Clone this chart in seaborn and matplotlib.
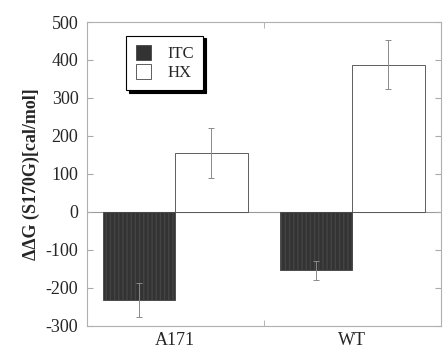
import numpy as np
import pandas as pd
import matplotlib
matplotlib.use("Agg")
import matplotlib.pyplot as plt
import seaborn as sns

# values
variants = ["A171", "WT"]
methods = ["ITC", "HX"]
itc_values = [-232, -155]
itc_errors = [45, 25]
hx_values = [155, 388]
hx_errors = [65, 65]

df = pd.DataFrame({
    "variant": variants * 2,
    "method": ["ITC"] * 2 + ["HX"] * 2,
    "ddg": itc_values + hx_values,
    "err": itc_errors + hx_errors,
})

sns.set_style("white")
plt.rcParams["font.family"] = ["Liberation Serif", "DejaVu Serif"]
plt.rcParams["axes.unicode_minus"] = False
plt.rcParams["hatch.color"] = "#4a4a4a"

fig, ax = plt.subplots(figsize=(4.45, 3.5), dpi=100)
fig.subplots_adjust(left=0.195, right=0.99, top=0.937, bottom=0.07)

sns.barplot(data=df, x="variant", y="ddg", hue="method", order=variants,
            hue_order=methods, palette=["#333333", "white"], errorbar=None,
            width=0.82, edgecolor="#444444", linewidth=0.6, ax=ax)

# error bars placed at the bar centres
for cont, m in zip(ax.containers, methods):
    sub = df[df["method"] == m].set_index("variant").loc[variants]
    xs = [p.get_x() + p.get_width() / 2 for p in cont.patches]
    ax.errorbar(xs, sub["ddg"], yerr=sub["err"], fmt="none",
                ecolor="#8a8a8a", elinewidth=0.7, capsize=2.5, capthick=0.7)
    if m == "ITC":
        for p in cont.patches:
            p.set_hatch("||||")

ax.axhline(0, color="#999999", lw=0.8, zorder=0.5)

ax.set_xlim(-0.5, 1.5)
ax.set_ylim(-300, 500)
ax.set_yticks(np.arange(-300, 501, 100))
ax.set_xticks([0.5], minor=True)
ax.tick_params(axis="y", direction="in", length=4, color="#aaaaaa",
               labelsize=13, right=True, left=True, pad=6)
ax.tick_params(axis="x", which="major", length=0, labelsize=13, pad=5)
ax.tick_params(axis="x", which="minor", direction="in", length=4,
               color="#aaaaaa", top=True, bottom=True)
for s in ax.spines.values():
    s.set_color("#b0b0b0")
    s.set_linewidth(0.8)

ax.set_xlabel("")
ax.set_ylabel("ΔΔG (S170G)[cal/mol]", fontsize=13, fontweight="bold")

leg = ax.legend(loc="upper left", bbox_to_anchor=(0.112, 0.955), frameon=True,
                shadow={"color": "black", "alpha": 1.0, "ox": 1.8, "oy": -1.8},
                fancybox=False, fontsize=12, handlelength=0.9,
                handleheight=1.0, borderpad=0.55, labelspacing=0.1,
                handletextpad=1.0, borderaxespad=0.0)
leg.get_frame().set_edgecolor("black")
leg.get_frame().set_linewidth(0.8)

fig.savefig("out.png", dpi=100)
